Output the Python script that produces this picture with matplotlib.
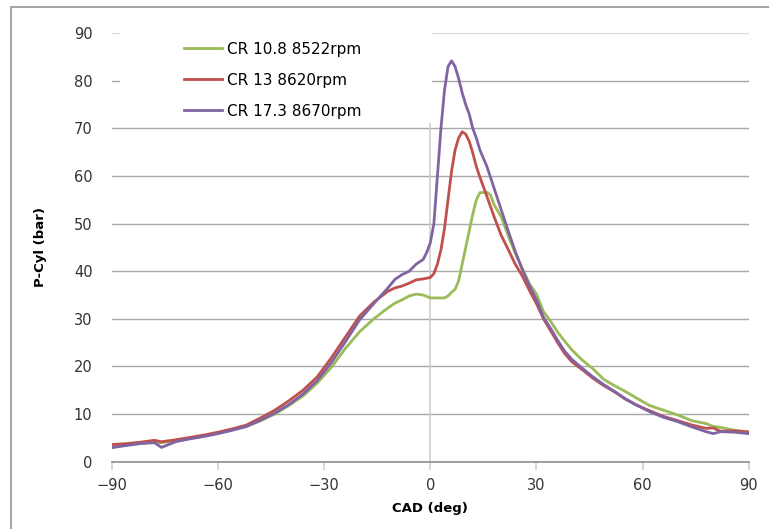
"""Cylinder pressure vs crank angle for three compression ratios."""

import matplotlib
matplotlib.use("Agg")

import matplotlib.pyplot as plt
from matplotlib.patches import Rectangle

# crank angle (deg) and cylinder pressure (bar)
cad_green = [-90, -86, -82, -78, -76, -72, -68, -64, -60, -56, -52, -48, -44, -40,
             -36, -32, -28, -24, -20, -16, -12, -10, -8, -6, -4, -2, 0, 4, 5, 6,
             7, 8, 9, 10, 11, 12, 13, 14, 16, 17, 18, 20, 22, 24, 26, 28, 30, 32,
             34, 36, 38, 40, 43, 46, 49, 52, 55, 58, 62, 66, 70, 74, 78, 80, 82,
             86, 90]
p_green = [2.9, 3.5, 3.9, 4.1, 4.0, 4.4, 4.9, 5.4, 6.0, 6.7, 7.4, 8.6, 10.0, 11.8,
           13.8, 16.5, 19.8, 23.8, 27.3, 30.0, 32.3, 33.3, 34.0, 34.8, 35.2, 35.0,
           34.4, 34.4, 34.8, 35.6, 36.2, 38.0, 41.5, 45.0, 48.5, 52.0, 55.0, 56.5,
           56.6, 56.0, 54.0, 51.5, 47.5, 43.8, 40.6, 37.4, 35.2, 31.5, 29.5, 27.2,
           25.3, 23.5, 21.3, 19.5, 17.3, 16.0, 14.8, 13.5, 11.8, 10.8, 9.8, 8.6,
           8.0, 7.4, 7.2, 6.6, 6.3]

cad_red = [-90, -86, -82, -78, -76, -72, -68, -64, -60, -56, -52, -48, -44, -40,
           -36, -32, -28, -24, -20, -16, -12, -10, -8, -6, -4, -2, 0, 1, 2, 3, 4,
           5, 6, 7, 8, 9, 10, 11, 12, 13, 14, 16, 18, 20, 22, 24, 26, 28, 30, 32,
           34, 36, 38, 40, 43, 46, 49, 52, 55, 58, 62, 66, 70, 74, 78, 80, 82, 86,
           90]
p_red = [3.6, 3.8, 4.1, 4.5, 4.2, 4.6, 5.1, 5.6, 6.2, 6.9, 7.7, 9.2, 10.8, 12.8,
         15.0, 17.8, 21.8, 26.2, 30.6, 33.5, 35.8, 36.5, 36.9, 37.5, 38.2, 38.4,
         38.7, 39.5, 41.5, 44.5, 49.0, 55.0, 61.0, 65.5, 68.0, 69.3, 68.8, 67.3,
         64.8, 62.0, 59.8, 55.7, 51.5, 47.6, 44.6, 41.5, 39.0, 36.0, 33.2, 30.0,
         27.5, 25.0, 22.7, 21.0, 19.3, 17.5, 16.0, 14.7, 13.2, 12.0, 10.7, 9.5,
         8.6, 7.7, 7.0, 7.1, 6.4, 6.5, 6.2]

cad_purple = [-90, -86, -82, -78, -76, -72, -68, -64, -60, -56, -52, -48, -44, -40,
              -36, -32, -28, -24, -20, -16, -12, -10, -8, -6, -4, -2, -1, 0, 1, 2,
              3, 4, 5, 6, 7, 8, 9, 10, 11, 12, 13, 14, 16, 18, 20, 22, 24, 26, 28,
              30, 32, 34, 36, 38, 40, 43, 46, 49, 52, 55, 58, 62, 66, 70, 74, 78,
              80, 82, 86, 90]
p_purple = [3.0, 3.4, 3.8, 4.0, 3.0, 4.2, 4.8, 5.3, 5.9, 6.6, 7.4, 8.7, 10.2, 12.0,
            14.2, 17.0, 20.8, 25.2, 29.8, 33.2, 36.5, 38.3, 39.3, 40.0, 41.5, 42.5,
            44.0, 46.0, 50.0, 60.0, 70.0, 78.0, 83.0, 84.2, 83.0, 80.5, 77.5, 75.0,
            73.0, 70.0, 68.0, 65.5, 62.0, 57.5, 53.0, 48.5, 44.2, 40.3, 37.0, 34.0,
            30.3, 28.0, 25.5, 23.2, 21.5, 19.6, 17.8, 16.2, 14.8, 13.3, 12.0, 10.5,
            9.3, 8.4, 7.3, 6.3, 5.9, 6.3, 6.2, 5.9]

labels = ["CR 10.8 8522rpm", "CR 13 8620rpm", "CR 17.3 8670rpm"]
colors = ["#9bbb59", "#c0504d", "#8064a2"]
x_ticks = [-90, -60, -30, 0, 30, 60, 90]
y_ticks = [0, 10, 20, 30, 40, 50, 60, 70, 80, 90]

fig = plt.figure(figsize=(7.69, 5.29), dpi=100)
ax = fig.add_axes([0.1456, 0.1272, 0.828, 0.81])

# outer chart border (left and top edges visible in the reference)
fig.patches.append(Rectangle((11 / 769, -0.1), 1.2, 1.1 - 7 / 529,
                             transform=fig.transFigure, fill=False,
                             edgecolor="#a6a6a6", lw=1.5))

for y in y_ticks[1:]:
    gc = "#dcdcdc" if y == 90 else "#a8a8a8"
    ax.axhline(y, color=gc, lw=1.0, zorder=0.5)
ax.axvline(0, color="#cfcfcf", lw=1.2, zorder=0.6)

# white legend area hides the grid behind it
ax.add_patch(Rectangle((0.0126, 0.79), 0.49, 0.25, transform=ax.transAxes,
                       facecolor="white", edgecolor="none", zorder=1,
                       clip_on=False))

series = [(cad_green, p_green), (cad_red, p_red), (cad_purple, p_purple)]
for (x, p), lab, c in zip(series, labels, colors):
    ax.plot(x, p, color=c, lw=2.0, label=lab, zorder=2)

ax.set_xlim(-90, 90)
ax.set_ylim(0, 90)
ax.set_xticks(x_ticks)
ax.set_yticks(y_ticks)
for s in ["left", "right", "top"]:
    ax.spines[s].set_visible(False)
ax.spines["bottom"].set_color("#8c8c8c")
ax.spines["bottom"].set_linewidth(1.2)
ax.tick_params(axis="x", length=6, width=1.2, color="#d0d0d0",
               labelsize=10.5, labelcolor="#333333", pad=6)
ax.tick_params(axis="y", length=0, labelsize=10.5, labelcolor="#333333", pad=14)

ax.set_xlabel("CAD (deg)", fontsize=9.5, fontweight="bold", labelpad=6)
ax.set_ylabel("P-Cyl (bar)", fontsize=9.5, fontweight="bold", labelpad=19)

ax.legend(loc="upper left", bbox_to_anchor=(170 / 769, 1 - 28 / 529),
          bbox_transform=fig.transFigure, frameon=False, fontsize=11,
          handlelength=2.5, handletextpad=0.35, labelspacing=1.05,
          borderpad=0.4)

fig.savefig("out.png", dpi=100)
